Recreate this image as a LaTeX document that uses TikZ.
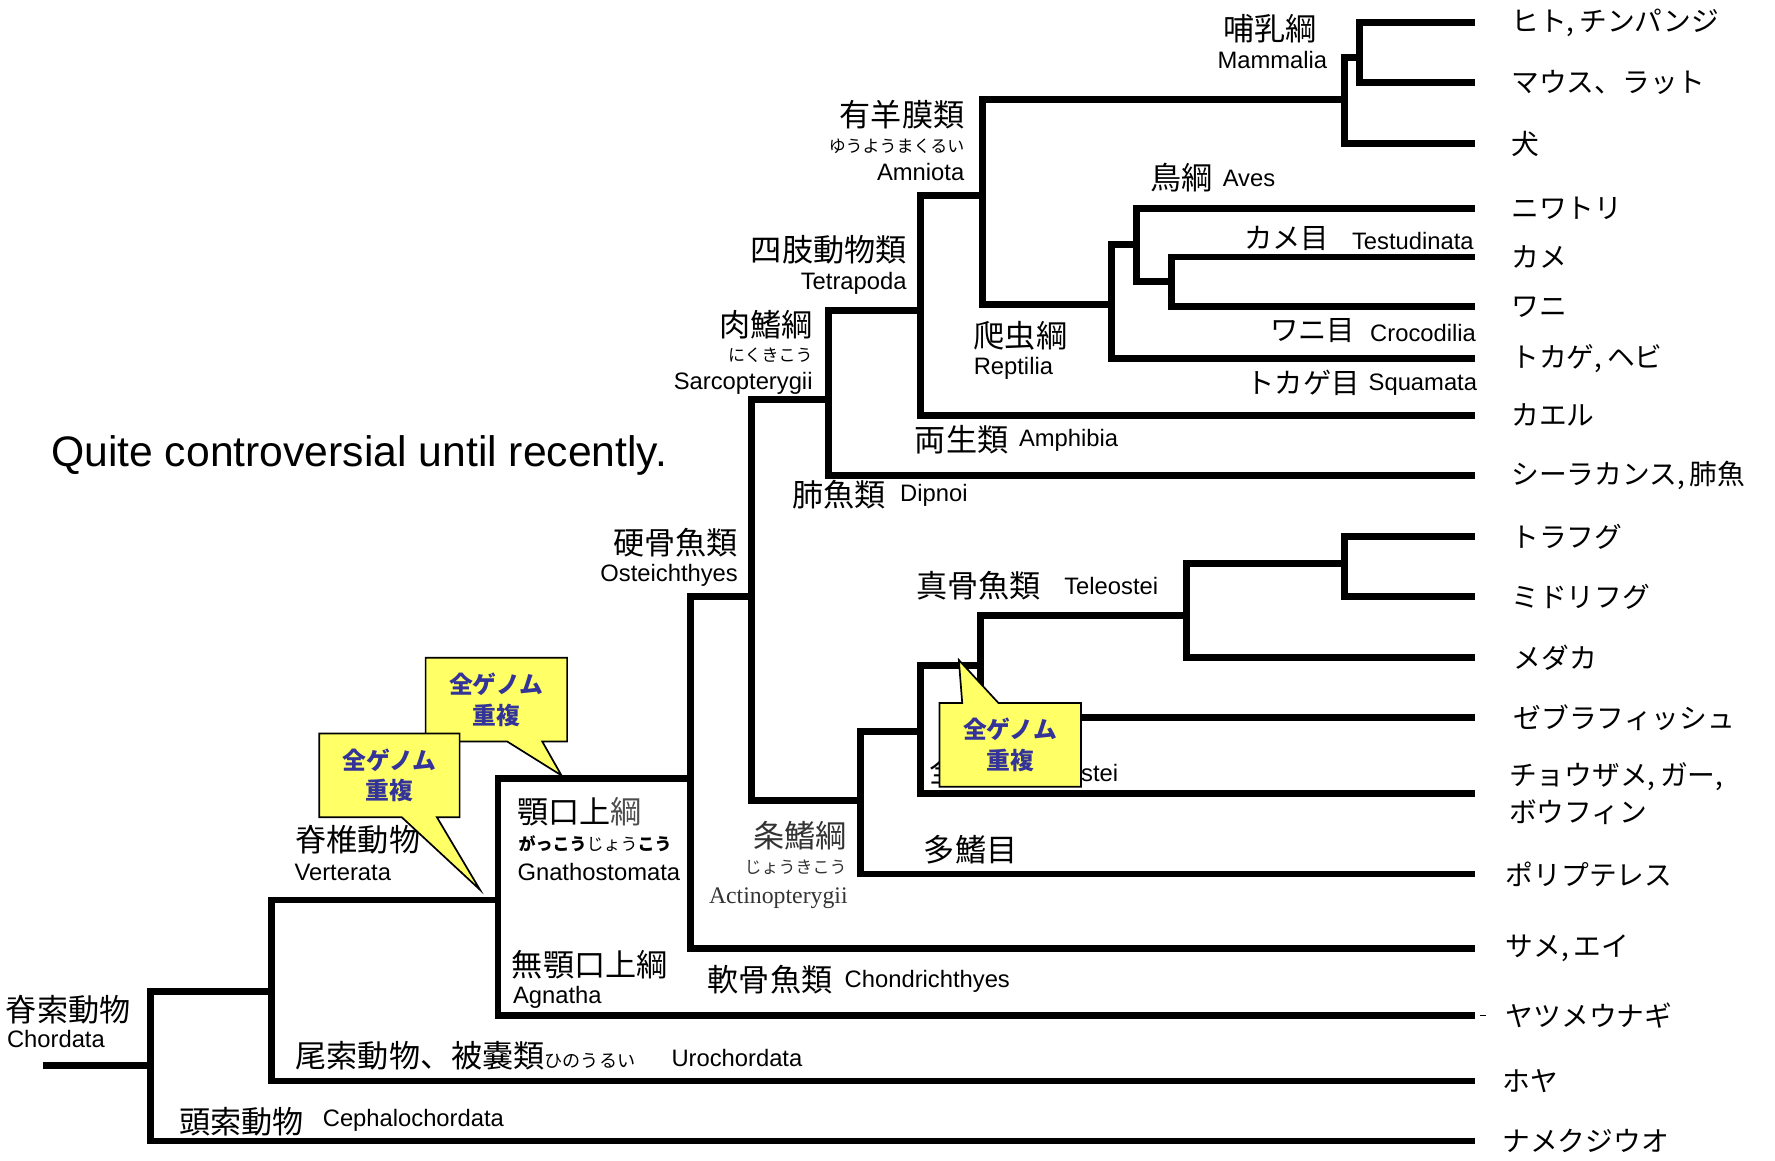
\documentclass[tikz,border=0pt]{standalone}
\usepackage{fontspec}
\setmainfont{Liberation Sans}
\newfontfamily\jp{Noto Sans CJK JP}
\newfontfamily\serifrm{Liberation Serif}
\usepackage{xcolor}
\usepackage{tikz}
\usetikzlibrary{positioning}
\definecolor{wgdyellow}{RGB}{255,255,102}
\definecolor{wgdblue}{RGB}{51,51,153}

\begin{document}
\begin{tikzpicture}[
  x=1pt, y=-1pt,
  every node/.style={inner sep=0pt},
  branch/.style={line width=6pt},
  jlab/.style={font=\jp\fontsize{27.5}{32}\selectfont},
  slab/.style={font=\jp\fontsize{25}{30}\selectfont},
  elab/.style={font=\fontsize{21}{25}\selectfont},
  kana/.style={font=\jp\fontsize{15}{18}\selectfont},
  leaf/.style={font=\jp\fontsize{24.5}{32}\selectfont, anchor=west, align=left},
  balloon/.style={draw=black, line width=1.5pt, fill=wgdyellow},
  wgd/.style={font=\jp\bfseries\fontsize{21}{27}\selectfont, text=wgdblue, align=center}
]
\fill[white] (0,0) rectangle (1568,1025);
\useasboundingbox (0,0) rectangle (1568,1025);

\coordinate (root) at (38,941);
\coordinate (chordata) at (133,941);
\coordinate (olfact) at (240,876);
\coordinate (vert) at (440,795);
\coordinate (gnatho) at (610,688);
\coordinate (osteich) at (664,527);
\coordinate (actino) at (760,707);
\coordinate (actn) at (813,646);
\coordinate (neop) at (866,588);
\coordinate (teleo) at (1048,544);
\coordinate (fugu) at (1188,498);
\coordinate (sarco) at (732,353);
\coordinate (tetra) at (813,274);
\coordinate (amnio) at (868,173);
\coordinate (mamm) at (1188,88);
\coordinate (prim) at (1201,51);
\coordinate (rept) at (982,269);
\coordinate (archo) at (1004,216);
\coordinate (testcroc) at (1035,249);

\foreach \i/\y/\dx/\lab in {
  1/20/32/{ヒト,\,チンパンジ}, 2/73/32/{マウス、ラット}, 3/127/32/犬,
  4/184/32/ニワトリ, 5/227/32/カメ, 6/271/32/ワニ, 7/317/32/{トカゲ,\,ヘビ},
  8/367/32/カエル, 9/420/32/{シーラカンス,\,肺魚}, 10/474/32/トラフグ,
  11/527/32/ミドリフグ, 12/581/34/メダカ, 13/634/34/ゼブラフィッシュ,
  14/701/30/{チョウザメ,\,ガー,\\ボウフィン}, 15/772/27/ポリプテレス,
  16/838/27/{サメ,\,エイ}, 17/897/27/ヤツメウナギ, 18/955/24/ホヤ,
  19/1008/24/ナメクジウオ}{
  \coordinate (l\i) at (1303,\y);
  \node[leaf, right=\dx pt of l\i] (n\i) {\lab};
}

\draw[branch] (root) -- (chordata);
\foreach \a/\b in {chordata/l19, chordata/olfact, olfact/l18, olfact/vert,
  vert/l17, vert/gnatho, gnatho/l16, gnatho/osteich, osteich/actino,
  osteich/sarco, actino/l15, actino/actn, actn/l14, actn/neop, neop/l13,
  neop/teleo, teleo/l12, teleo/fugu, fugu/l10, fugu/l11, sarco/l9,
  sarco/tetra, tetra/l8, tetra/amnio, amnio/mamm, amnio/rept, mamm/l3,
  mamm/prim, prim/l1, prim/l2, rept/l7, rept/archo, archo/l4,
  archo/testcroc, testcroc/l5, testcroc/l6}
  \draw[branch] (\a) |- (\b);
\draw[line width=0.8pt] (l17) ++(4,0) -- ++(6,0);

\node[anchor=west, font=\fontsize{37.7}{44}\selectfont] (note) at (45,402)
  {Quite controversial until recently.};

\node[jlab, anchor=west] (chordJ) at (5,892) {脊索動物};
\node[elab, anchor=west] (chordE) at (6,918) {Chordata};
\node[jlab, anchor=west] (uroJ) at (261,933)
  {尾索動物、被嚢類{\fontsize{16}{18}\selectfont ひのうるい}};
\node[elab, anchor=west] (uroE) at (593,935) {Urochordata};
\node[jlab, anchor=west] (cephJ) at (158,991) {頭索動物};
\node[elab, anchor=west] (cephE) at (285,990) {Cephalochordata};
\node[jlab, anchor=west] (vertJ) at (261,742) {脊椎動物};
\node[elab, anchor=west] (vertE) at (260,771) {Verterata};
\node[jlab, anchor=west] (gnathJ) at (457,717) {顎口上{\color{black!70}綱}};
\node[kana, anchor=west] (gnathK) at (458,745)
  {{\bfseries がっこう}じょう{\bfseries こう}};
\node[elab, anchor=west] (gnathE) at (457,770) {Gnathostomata};
\node[jlab, anchor=west] (agnJ) at (452,852) {無顎口上綱};
\node[elab, anchor=west] (agnE) at (453,881) {Agnatha};
\node[jlab, anchor=west] (chondJ) at (625,865) {軟骨魚類};
\node[elab, anchor=west] (chondE) at (746,867) {Chondrichthyes};
\node[jlab, anchor=east] (ostJ) at (652,479) {硬骨魚類};
\node[elab, anchor=east] (ostE) at (652,508) {Osteichthyes};
\node[jlab, anchor=east, text=black!80] (actJ) at (748,738) {条鰭綱};
\node[kana, anchor=east, text=black!80] (actK) at (748,766) {じょうきこう};
\node[anchor=east, text=black!80, font=\serifrm\fontsize{21}{25}\selectfont]
  (actE) at (749,793) {Actinopterygii};
\node[jlab, anchor=west] (polyJ) at (816,751) {多鰭目};
\node[jlab, anchor=west] (holoJ) at (821,681) {全骨類};
\node[elab, anchor=east] (holoE) at (988,683) {Holostei};
\node[jlab, anchor=west] (telJ) at (809,517) {真骨魚類};
\node[elab, anchor=west] (telE) at (940,518) {Teleostei};
\node[jlab, anchor=west] (dipJ) at (700,437) {肺魚類};
\node[elab, anchor=west] (dipE) at (795,438) {Dipnoi};
\node[jlab, anchor=west] (amphJ) at (808,388) {両生類};
\node[elab, anchor=west] (amphE) at (900,389) {Amphibia};
\node[jlab, anchor=east] (sarcJ) at (718,287) {肉鰭綱};
\node[kana, anchor=east] (sarcK) at (718,314) {にくきこう};
\node[elab, anchor=east] (sarcE) at (718,339) {Sarcopterygii};
\node[jlab, anchor=east] (tetJ) at (801,221) {四肢動物類};
\node[elab, anchor=east] (tetE) at (801,250) {Tetrapoda};
\node[jlab, anchor=east] (amnJ) at (852,101) {有羊膜類};
\node[kana, anchor=east] (amnK) at (852,129) {ゆうようまくるい};
\node[elab, anchor=east] (amnE) at (852,152) {Amniota};
\node[jlab] (mamJ) at (1122,25) {哺乳綱};
\node[elab] (mamE) at (1124,53) {Mammalia};
\node[jlab, anchor=west] (avesJ) at (1016,157) {鳥綱};
\node[elab, anchor=west] (avesE) at (1080,158) {Aves};
\node[slab, anchor=west] (testJ) at (1099,211) {カメ目};
\node[elab, anchor=east] (testE) at (1302,213) {Testudinata};
\node[slab, anchor=west] (crocJ) at (1122,292) {ワニ目};
\node[elab, anchor=east] (crocE) at (1304,294) {Crocodilia};
\node[slab, anchor=west] (squJ) at (1101,338) {トカゲ目};
\node[elab, anchor=east] (squE) at (1305,340) {Squamata};
\node[jlab, anchor=west] (repJ) at (860,297) {爬虫綱};
\node[elab, anchor=west] (repE) at (860,325) {Reptilia};

\coordinate (tipB) at (496,685);
\draw[balloon] (376,581) -- (501,581) -- (501,655) -- (479,655) -- (tipB)
  -- (448,655) -- (376,655) -- cycle;
\node[wgd] (wgdB) at (438.5,618) {全ゲノム\\重複};
\coordinate (tipA) at (424,786);
\draw[balloon] (282,648) -- (406,648) -- (406,722) -- (386,722) -- (tipA)
  -- (355,722) -- (282,722) -- cycle;
\node[wgd] (wgdA) at (344,685) {全ゲノム\\重複};
\coordinate (tipC) at (847,583);
\draw[balloon] (830,621) -- (850,621) -- (tipC) -- (882,621) -- (955,621)
  -- (955,695) -- (830,695) -- cycle;
\node[wgd] (wgdC) at (892.5,658) {全ゲノム\\重複};
\end{tikzpicture}
\end{document}
